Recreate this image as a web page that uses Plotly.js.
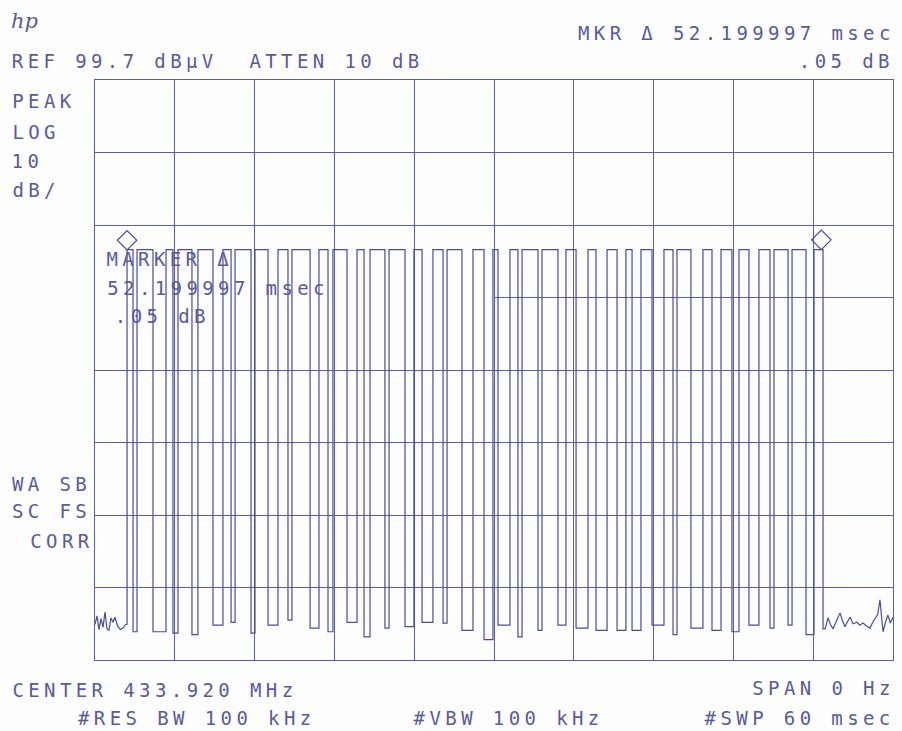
<!DOCTYPE html>
<html>
<head>
<meta charset="utf-8">
<script src="https://cdn.plot.ly/plotly-3.0.1.min.js"></script>
<style>
  html, body { margin: 0; padding: 0; background: #fdfdfd; }
  #plot { width: 902px; height: 731px; }
  #plot .annotation-text { letter-spacing: 4.4px; }
  #plot g.annotation[data-index="0"] .annotation-text { letter-spacing: 0; }
</style>
</head>
<body>
<div id="plot"></div>
<script>
// Zero-span sweep of a 433.92 MHz OOK remote burst: 60 ms sweep, 10 dB/div log scale.
const refLevel = 99.7;          // dBµV at top graticule
const dbPerDiv = 10;
const divisions = 8;
const sweepMs = 60;
const timeDivs = 10;
const highLevel = 76.3;         // carrier-on level, dBµV

// Rising / falling edges of each carrier burst (ms)
const riseMs = [2.41, 3.16, 5.34, 6.24, 7.74, 9.62, 10.53, 12.03, 13.76, 14.81, 16.84, 17.89,
  19.70, 20.68, 22.11, 23.98, 25.41, 26.47, 28.42, 29.92, 31.20, 32.11, 33.61, 35.41, 37.07,
  38.50, 39.92, 41.05, 42.78, 43.76, 45.71, 47.07, 48.42, 49.92, 51.05, 52.41, 54.06];
const fallMs = [2.86, 4.36, 5.86, 7.29, 8.87, 10.23, 11.73, 13.01, 14.51, 16.17, 17.52, 18.95,
  20.23, 21.80, 23.31, 24.59, 26.17, 27.59, 29.25, 30.30, 31.80, 33.31, 34.81, 36.17, 37.67,
  39.25, 40.38, 41.88, 43.46, 44.81, 46.39, 47.89, 49.17, 50.75, 52.11, 53.46, 54.74];
// Floor reached in each off-gap between bursts (dBµV)
const gapFloorDb = [23.6, 23.6, 23.4, 23.2, 24.5, 24.9, 23.4, 24.5, 25.2, 24.1, 23.6, 24.9,
  22.9, 24.1, 24.3, 24.9, 24.8, 23.8, 22.5, 24.5, 22.9, 23.8, 24.5, 24.1, 23.8, 23.8, 23.8,
  24.5, 23.2, 24.1, 23.8, 23.6, 24.5, 24.1, 24.5, 23.2];

// Noise floor before and after the burst
const noiseBeforeMs = [0, 0.15, 0.3, 0.45, 0.6, 0.75, 0.9, 1.05, 1.2, 1.35, 1.5, 1.7, 1.9, 2.1, 2.3];
const noiseBeforeDb = [24.6, 25.8, 23.9, 25.4, 24.2, 26.3, 24.0, 23.8, 25.5, 24.9, 25.6, 24.4, 23.9, 24.1, 24.6];
const noiseAfterMs = [54.9, 55.11, 55.3, 55.49, 55.75, 56.02, 56.2, 56.39, 56.58, 56.77, 57.0, 57.29,
  57.5, 57.74, 58.0, 58.27, 58.45, 58.65, 58.85, 59.02, 59.25, 59.45, 59.62, 59.8, 60];
const noiseAfterDb = [24.0, 25.5, 24.6, 24.0, 25.0, 26.2, 25.1, 24.3, 25.0, 25.6, 24.7, 24.9,
  24.5, 24.8, 24.4, 24.1, 24.8, 25.5, 26.0, 28.0, 23.6, 25.0, 25.9, 24.8, 25.6];

// Delta marker pair
const markerMs = 2.41;
const markerDeltaMs = 52.199997;
const markerDeltaDb = 0.05;

// Build the swept trace
const tx = [...noiseBeforeMs];
const ty = [...noiseBeforeDb];
for (let i = 0; i < riseMs.length; i++) {
  const before = i === 0 ? noiseBeforeDb[noiseBeforeDb.length - 1] : gapFloorDb[i - 1];
  tx.push(riseMs[i], riseMs[i], fallMs[i]);
  ty.push(before, highLevel, highLevel);
  const after = i < gapFloorDb.length ? gapFloorDb[i] : noiseAfterDb[0];
  tx.push(fallMs[i]);
  ty.push(after);
}
tx.push(...noiseAfterMs);
ty.push(...noiseAfterDb);

const ink = '#4b4ba0';
const gridInk = '#5c5caa';
const textInk = '#5a5a9c';
const bottom = refLevel - dbPerDiv * divisions;

// diamonds sit just above the trace point they mark
const markerLift = 1.3;
const mx = [markerMs, markerMs + markerDeltaMs];
const my = [highLevel + markerLift, highLevel + markerDeltaDb + markerLift];

const traces = [
  { x: tx, y: ty, type: 'scatter', mode: 'lines',
    line: { color: ink, width: 1.2 }, hoverinfo: 'skip' },
  { x: mx, y: my, type: 'scatter', mode: 'markers',
    marker: { symbol: 'diamond-open', size: 15, color: ink, line: { width: 1.2, color: ink } },
    hoverinfo: 'skip' }
];

// pixel -> paper helpers for the annotation text layout
const L = 95, R = 893, T = 80, B = 660;
const px = v => (v - L) / (R - L);
const py = v => (B - v) / (B - T);
const mono = 'DejaVu Sans Mono, Liberation Mono, monospace';
const fontSize = 19;
const spacing = 4.4;                      // matches the CSS letter-spacing
const advance = 0.602 * fontSize + spacing;

// Text is centred on its anchor point, so place it by its computed centre:
// anchor 'left' -> x is the left edge of the first glyph, 'right' -> right edge of the last.
function label(text, x, y, anchor) {
  const n = [...text].length;
  const cx = anchor === 'right' ? x + spacing - n * advance / 2 : x + n * advance / 2;
  return { text, x: px(cx), y: py(y), xref: 'paper', yref: 'paper',
    xanchor: 'center', yanchor: 'middle', showarrow: false,
    font: { family: mono, size: fontSize, color: textInk } };
}
const nb = s => s.replace(/ /g, '\u00a0');

const fmtDelta = markerDeltaMs.toFixed(6);
const fmtDb = markerDeltaDb.toFixed(2).replace(/^0/, '');

const annotations = [
  { text: 'hp', x: px(24), y: py(21), xref: 'paper', yref: 'paper', xanchor: 'center', yanchor: 'middle',
    showarrow: false, font: { family: 'DejaVu Serif, serif', size: 21, style: 'italic', color: textInk } },
  label(nb('REF ' + refLevel.toFixed(1) + ' dBµV  ATTEN 10 dB'), 12, 61),
  label(nb('MKR Δ ' + fmtDelta + ' msec'), 890, 33, 'right'),
  label(nb(fmtDb + ' dB'), 890, 61, 'right'),
  label('PEAK', 12, 101),
  label('LOG', 12, 132),
  label(String(dbPerDiv), 12, 161),
  label('dB/', 12, 190),
  label(nb('WA SB'), 12, 484),
  label(nb('SC FS'), 12, 511),
  label('CORR', 30, 541),
  label(nb('MARKER Δ'), 107, 259),
  label(nb(fmtDelta + ' msec'), 107, 288),
  label(nb(fmtDb + ' dB'), 115, 316),
  label(nb('CENTER 433.920 MHz'), 12, 690),
  label(nb('SPAN 0 Hz'), 890, 688, 'right'),
  label(nb('#RES BW 100 kHz'), 78, 718),
  label(nb('#VBW 100 kHz'), 413, 718),
  label(nb('#SWP ' + sweepMs + ' msec'), 890, 718, 'right')
];

// graticule row that is only drawn on the right half
const gridRowsAll = [];
for (let k = 1; k < divisions; k++) gridRowsAll.push(refLevel - k * dbPerDiv);
const partialRow = refLevel - 3 * dbPerDiv;
const gridRows = gridRowsAll.filter(v => Math.abs(v - partialRow) > 1e-6);

const layout = {
  width: 902, height: 731,
  margin: { l: L, r: 902 - R, t: T, b: 731 - B, pad: 0 },
  paper_bgcolor: '#fdfdfd', plot_bgcolor: '#fdfdfd',
  showlegend: false,
  xaxis: { range: [0, sweepMs], dtick: sweepMs / timeDivs, tick0: 0, showgrid: true,
    gridcolor: gridInk, gridwidth: 1, showticklabels: false, ticks: '', zeroline: false,
    showline: true, mirror: true, linecolor: gridInk, linewidth: 1.3, fixedrange: true },
  yaxis: { range: [bottom, refLevel], tickvals: gridRows, showgrid: true,
    gridcolor: gridInk, gridwidth: 1, showticklabels: false, ticks: '', zeroline: false,
    showline: true, mirror: true, linecolor: gridInk, linewidth: 1.3, fixedrange: true },
  shapes: [
    { type: 'line', xref: 'x', yref: 'y', x0: sweepMs / 2, x1: sweepMs, y0: partialRow, y1: partialRow,
      line: { color: gridInk, width: 1 }, layer: 'below' }
  ],
  annotations
};

Plotly.newPlot('plot', traces, layout, { displayModeBar: false, staticPlot: true });
</script>
</body>
</html>
